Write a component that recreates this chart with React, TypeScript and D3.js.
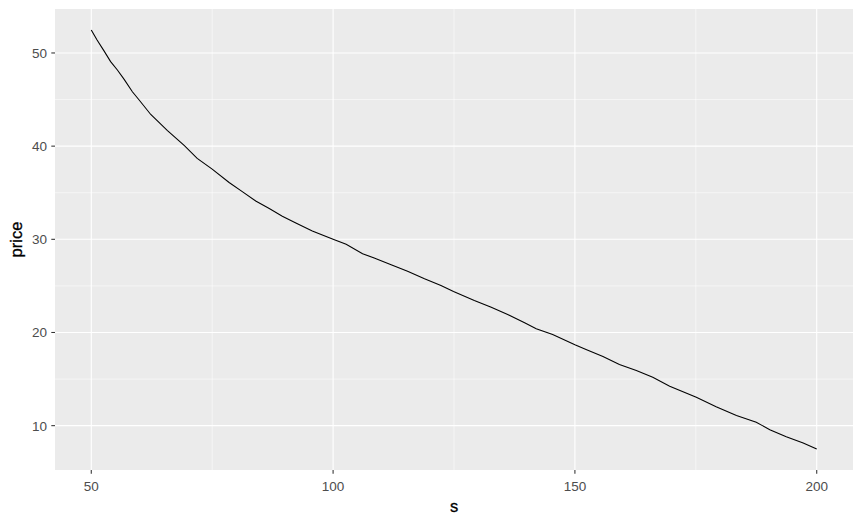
import React from "react";
import * as d3 from "d3";

const sValues = [
  50, 51.2, 52.6, 54.0, 55.4, 56.8, 58.5, 59.9, 62.3, 65.7, 69.2, 71.9, 75.0,
  78.5, 81.3, 84.0, 86.8, 89.5, 92.3, 95.7, 100, 102.7, 106.1, 108.5, 112.0,
  115.4, 118.9, 122.3, 124.9, 129.2, 132.7, 136.1, 139.6, 142.0, 145.4, 150,
  152.3, 155.8, 159.2, 162.7, 166.1, 169.6, 175.1, 179.2, 183.4, 187.5, 190.3,
  193.7, 197.2, 200,
];
const priceValues = [
  52.47, 51.4, 50.25, 49.07, 48.17, 47.17, 45.84, 44.95, 43.4, 41.7, 40.08,
  38.68, 37.53, 36.1, 35.09, 34.12, 33.3, 32.47, 31.75, 30.89, 30.0, 29.46,
  28.46, 27.99, 27.28, 26.56, 25.77, 25.05, 24.41, 23.44, 22.72, 21.94, 21.04,
  20.4, 19.79, 18.68, 18.17, 17.42, 16.56, 15.91, 15.19, 14.23, 13.04, 12.04,
  11.08, 10.36, 9.57, 8.82, 8.14, 7.49,
];
const xTicks = [50, 100, 150, 200];
const xMinor = [75, 125, 175];
const yTicks = [10, 20, 30, 40, 50];
const yMinor = [15, 25, 35, 45];

const W = 863;
const H = 525;
const panel = { left: 55, top: 9, right: 853, bottom: 470 };

export default function App() {
  const sExt = d3.extent(sValues) as [number, number];
  const pExt = d3.extent(priceValues) as [number, number];
  const sPad = (sExt[1] - sExt[0]) * 0.05;
  const pPad = (pExt[1] - pExt[0]) * 0.05;
  const x = d3
    .scaleLinear()
    .domain([sExt[0] - sPad, sExt[1] + sPad])
    .range([panel.left, panel.right]);
  const y = d3
    .scaleLinear()
    .domain([pExt[0] - pPad, pExt[1] + pPad])
    .range([panel.bottom, panel.top]);
  const data = sValues.map((s, i) => [s, priceValues[i]] as [number, number]);
  const line = d3
    .line<[number, number]>()
    .x((d) => x(d[0]))
    .y((d) => y(d[1]));
  const font = "Arial, 'Liberation Sans', sans-serif";
  return (
    <svg
      width={W}
      height={H}
      style={{ position: "absolute", left: 0, top: 0, background: "white" }}
    >
      <rect
        x={panel.left}
        y={panel.top}
        width={panel.right - panel.left}
        height={panel.bottom - panel.top}
        fill="#EBEBEB"
      />
      {yMinor.map((v) => (
        <line key={"ym" + v} x1={panel.left} x2={panel.right} y1={y(v)} y2={y(v)} stroke="white" strokeWidth={0.55} />
      ))}
      {xMinor.map((v) => (
        <line key={"xm" + v} y1={panel.top} y2={panel.bottom} x1={x(v)} x2={x(v)} stroke="white" strokeWidth={0.55} />
      ))}
      {yTicks.map((v) => (
        <line key={"yM" + v} x1={panel.left} x2={panel.right} y1={y(v)} y2={y(v)} stroke="white" strokeWidth={1.1} />
      ))}
      {xTicks.map((v) => (
        <line key={"xM" + v} y1={panel.top} y2={panel.bottom} x1={x(v)} x2={x(v)} stroke="white" strokeWidth={1.1} />
      ))}
      <path d={line(data) || ""} fill="none" stroke="black" strokeWidth={1.07} />
      {yTicks.map((v) => (
        <g key={"yt" + v}>
          <line x1={panel.left - 3.7} x2={panel.left} y1={y(v)} y2={y(v)} stroke="#333333" strokeWidth={1.07} />
          <text x={panel.left - 8} y={y(v)} dy="0.36em" textAnchor="end" fontSize={13.5} fill="#4D4D4D" fontFamily={font}>
            {v}
          </text>
        </g>
      ))}
      {xTicks.map((v) => (
        <g key={"xt" + v}>
          <line x1={x(v)} x2={x(v)} y1={panel.bottom} y2={panel.bottom + 3.7} stroke="#333333" strokeWidth={1.07} />
          <text x={x(v)} y={490.7} textAnchor="middle" fontSize={13.5} fill="#4D4D4D" fontFamily={font}>
            {v}
          </text>
        </g>
      ))}
      <text x={(panel.left + panel.right) / 2} y={511.7} textAnchor="middle" fontSize={16.5} fill="black" fontFamily={font} stroke="black" strokeWidth={0.3}>
        s
      </text>
      <text
        transform={`translate(21.5,${(panel.top + panel.bottom) / 2}) rotate(-90)`}
        textAnchor="middle"
        fontSize={16.5}
        fill="black"
        fontFamily={font}
        stroke="black"
        strokeWidth={0.3}
      >
        price
      </text>
    </svg>
  );
}
